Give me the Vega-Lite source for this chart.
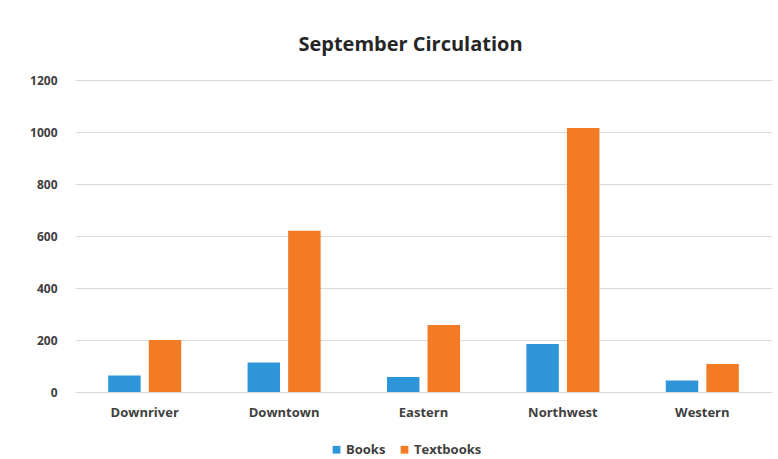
{
  "$schema": "https://vega.github.io/schema/vega-lite/v6.json",
  "autosize": "none",
  "width": 697,
  "height": 312,
  "padding": {"left": 75, "top": 80, "right": 6, "bottom": 67},
  "background": "white",
  "title": {
    "text": "September Circulation",
    "font": "Open Sans",
    "fontSize": 20,
    "fontWeight": "bold",
    "color": "#262626",
    "anchor": "middle",
    "frame": "group",
    "dx": -13,
    "offset": 19
  },
  "data": {
    "values": [
      {"branch": "Downriver", "type": "Books", "count": 63},
      {"branch": "Downriver", "type": "Textbooks", "count": 200},
      {"branch": "Downtown", "type": "Books", "count": 113},
      {"branch": "Downtown", "type": "Textbooks", "count": 620},
      {"branch": "Eastern", "type": "Books", "count": 58},
      {"branch": "Eastern", "type": "Textbooks", "count": 258},
      {"branch": "Northwest", "type": "Books", "count": 185},
      {"branch": "Northwest", "type": "Textbooks", "count": 1015},
      {"branch": "Western", "type": "Books", "count": 44},
      {"branch": "Western", "type": "Textbooks", "count": 108}
    ]
  },
  "mark": {"type": "bar"},
  "encoding": {
    "x": {
      "field": "branch",
      "type": "nominal",
      "sort": null,
      "scale": {"paddingInner": 0.476, "paddingOuter": 0.238},
      "axis": {
        "title": null,
        "labelAngle": 0,
        "ticks": false,
        "domain": false,
        "labelFont": "Open Sans",
        "labelFontSize": 13,
        "labelFontWeight": "bold",
        "labelColor": "#404040",
        "labelPadding": 14
      }
    },
    "xOffset": {
      "field": "type",
      "type": "nominal",
      "scale": {"paddingInner": 0.2, "paddingOuter": 0}
    },
    "y": {
      "field": "count",
      "type": "quantitative",
      "scale": {"domain": [0, 1200], "nice": false},
      "axis": {
        "title": null,
        "values": [0, 200, 400, 600, 800, 1000, 1200],
        "format": "d",
        "ticks": false,
        "domain": false,
        "grid": true,
        "gridColor": "#d9d9d9",
        "gridWidth": 1,
        "labelFont": "Open Sans",
        "labelFontSize": 12,
        "labelFontWeight": "bold",
        "labelColor": "#404040",
        "labelPadding": 18
      }
    },
    "color": {
      "field": "type",
      "type": "nominal",
      "scale": {"domain": ["Books", "Textbooks"], "range": ["#2E96D8", "#F47B25"]},
      "legend": {
        "title": null,
        "orient": "none",
        "direction": "horizontal",
        "legendX": 255,
        "legendY": 363,
        "symbolType": "square",
        "symbolSize": 60,
        "symbolStrokeWidth": 0,
        "labelFont": "Open Sans",
        "labelFontSize": 13,
        "labelFontWeight": "bold",
        "labelColor": "#404040",
        "columnPadding": 12,
        "labelOffset": 3
      }
    }
  },
  "config": {
    "view": {"stroke": null}
  }
}
